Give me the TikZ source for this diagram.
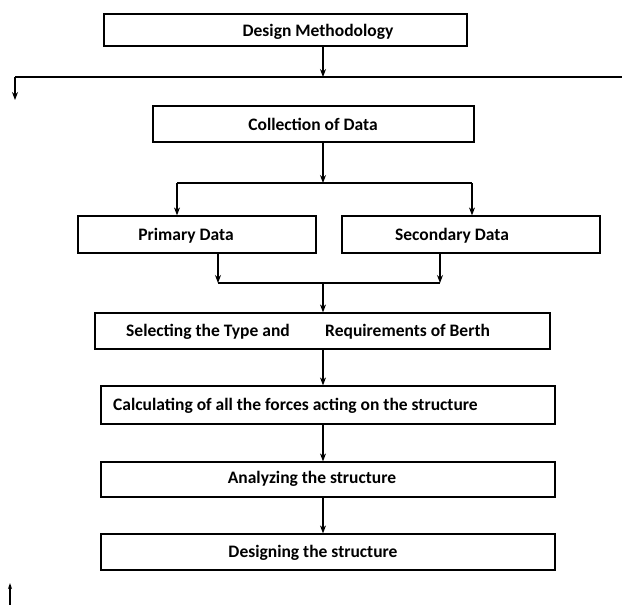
\documentclass[tikz,border=0pt]{standalone}
\usepackage{fontspec}
\setmainfont{Carlito}
\usetikzlibrary{arrows.meta}
\begin{document}
\begin{tikzpicture}[x=1pt,y=-1pt,
  box/.style={draw,line width=1.2pt,inner sep=0pt},
  lbl/.style={font=\bfseries\fontsize{17.5}{19}\selectfont,inner sep=0pt,anchor=base},
  arr/.style={line width=1.1pt,-{Stealth[length=8pt,width=6pt]}},
  ln/.style={line width=1.1pt}]
\useasboundingbox (0,0) rectangle (622,605);
% boxes
\node[box,minimum width=363pt,minimum height=32pt] (b1) at (285.5,30) {};
\node[box,minimum width=321pt,minimum height=36pt] (b2) at (313.5,124) {};
\node[box,minimum width=238pt,minimum height=37pt] (b3) at (197,234.5) {};
\node[box,minimum width=258pt,minimum height=37pt] (b4) at (471,234.5) {};
\node[box,minimum width=455pt,minimum height=36pt] (b5) at (322.5,331) {};
\node[box,minimum width=454pt,minimum height=38pt] (b6) at (328,405) {};
\node[box,minimum width=454pt,minimum height=35pt] (b7) at (328,479.5) {};
\node[box,minimum width=454pt,minimum height=36pt] (b8) at (328,552) {};
% labels
\node[lbl] (t1) at (318,36.5) {Design Methodology};
\node[lbl] (t2) at (313,130.5) {Collection of Data};
\node[lbl] (t3) at (186,240.5) {Primary Data};
\node[lbl] (t4) at (452,240.5) {Secondary Data};
\node[lbl,anchor=base west] (t5) at (126,336.5) {Selecting the Type and};
\node[lbl,anchor=base west] (t5b) at (325,336.5) {Requirements of Berth};
\node[lbl,anchor=base west] (t6) at (113,410.5) {Calculating of all the forces acting on the structure};
\node[lbl] (t7) at (312,483.5) {Analyzing the structure};
\node[lbl] (t8) at (313,557.5) {Designing the structure};
% connectors
\coordinate (j1) at (323,77);
\coordinate (jl) at (15,77);
\coordinate (jr) at (622,77);
\coordinate (d1) at (15,100);
\draw[arr] (b1.south -| j1) -- (j1);
\draw[ln] (jl) -- (jr);
\draw[arr] (jl) -- (d1);
\coordinate (j2) at (323,183);
\coordinate (j2l) at (177,183);
\coordinate (j2r) at (472,183);
\draw[arr] (b2.south -| j2) -- (j2);
\draw[ln] (j2l) -- (j2r);
\draw[arr] (j2l) -- (b3.north -| j2l);
\draw[arr] (j2r) -- (b4.north -| j2r);
\coordinate (j3l) at (218,283);
\coordinate (j3r) at (440,283);
\coordinate (j3) at (323,283);
\draw[arr] (b3.south -| j3l) -- (j3l);
\draw[arr] (b4.south -| j3r) -- (j3r);
\draw[ln] (j3l) -- (j3r);
\draw[arr] (j3) -- (b5.north -| j3);
\draw[arr] (b5.south -| j3) -- (b6.north -| j3);
\draw[arr] (b6.south -| j3) -- (b7.north -| j3);
\draw[arr] (b7.south -| j3) -- (b8.north -| j3);
% stray mark bottom-left
\coordinate (m1) at (10,605);
\coordinate (m2) at (10,583);
\draw[line width=1.1pt,-{Stealth[length=6pt,width=4pt]}] (m1) -- (m2);
\end{tikzpicture}
\end{document}
